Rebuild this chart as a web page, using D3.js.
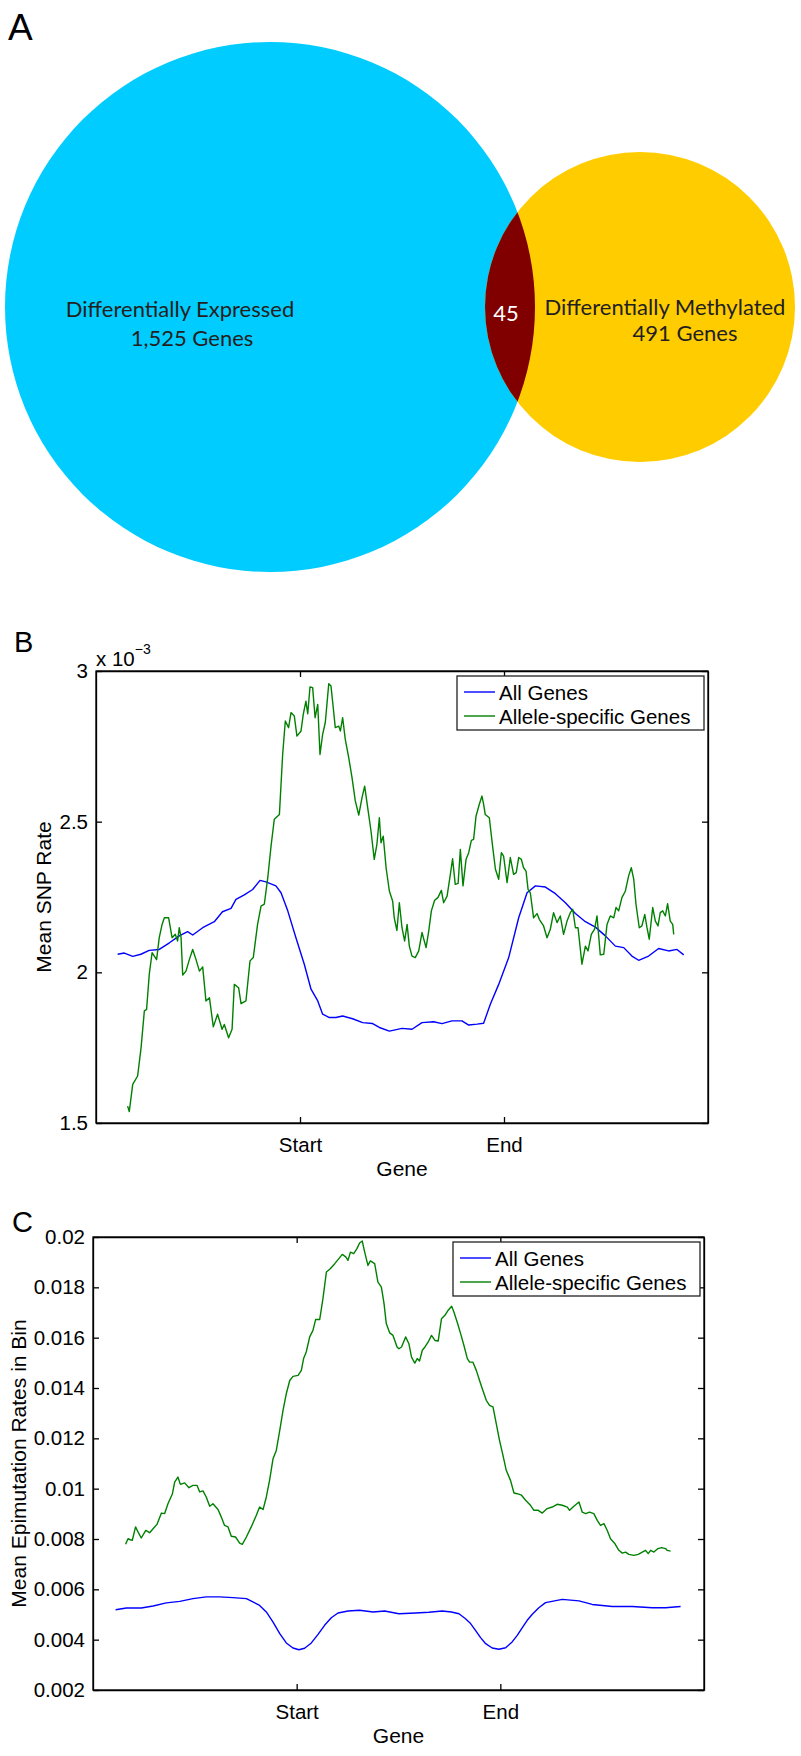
<!DOCTYPE html>
<html>
<head>
<meta charset="utf-8">
<title>Venn and gene profiles</title>
<script src="https://d3js.org/d3.v7.min.js"></script>
<style>
  body { margin: 0; background: #fff; }
  text { font-family: "Liberation Sans", Arial, Helvetica, sans-serif; fill: #000; }
  .venn text { font-family: Lato, "Open Sans", sans-serif; fill: #231f20; }
</style>
</head>
<body>
<script>

// ---- panel A : Venn counts ----
var vennLabels = ["Differentially Expressed", "Differentially Methylated"];
var vennCounts = [1525, 491];
var vennOverlap = 45;

// ---- shared x axis (gene body scaled to bins 0..300) ----
var geneTicks = [100, 200];
var geneTickLabels = ["Start", "End"];
var seriesNames = ["All Genes", "Allele-specific Genes"];
var seriesColors = ["#0000ff", "#008000"];

// ---- panel B : mean SNP rate (units of 1e-3) ----
var snpTicks = [1.5, 2, 2.5, 3];
var snpAllGenes = [
  [10.6,2.060],[13.9,2.064],[18,2.053],[22,2.060],[26.1,2.073],[31,2.076],[36,2.098],[40.8,2.121],
  [44.9,2.135],[47.4,2.124],[52.3,2.148],[58,2.168],[62,2.201],[66.2,2.212],[68.6,2.242],[72.7,2.257],
  [76.8,2.275],[80.4,2.305],[83.3,2.300],[88.2,2.287],[90.7,2.264],[94,2.204],[98,2.115],[102.1,2.027],
  [105.4,1.944],[108.7,1.905],[111.1,1.861],[114.4,1.850],[117.6,1.850],[120.9,1.855],[125.8,1.846],
  [130.7,1.833],[135.6,1.830],[138.9,1.817],[143.8,1.805],[150,1.814],[154.9,1.811],[159.8,1.833],
  [165.5,1.836],[169.6,1.830],[174.5,1.839],[179.4,1.839],[182.7,1.825],[186.8,1.828],[190,1.831],
  [193.3,1.894],[197.4,1.960],[202.3,2.049],[207.2,2.181],[211.3,2.264],[215.4,2.287],[220.3,2.283],
  [225.2,2.261],[230.1,2.231],[235,2.195],[239.9,2.168],[244.8,2.150],[249.7,2.121],[254.6,2.087],
  [258.7,2.082],[262.7,2.054],[266,2.040],[270.9,2.054],[275.8,2.079],[280.7,2.071],[284.8,2.076],[288.1,2.058]
];
var snpAlleleGenes = [
  [15.5,1.556],[16.3,1.538],[18,1.628],[20.4,1.656],[22.1,1.750],[23.7,1.872],[24.8,1.877],[26.1,1.993],
  [27.5,2.065],[28.6,2.054],[29.7,2.042],[31,2.115],[32.4,2.159],[33.5,2.181],[35.6,2.181],[37.3,2.115],
  [38.9,2.126],[40,2.104],[40.8,2.148],[41.7,2.115],[42.5,1.991],[44.1,2.004],[45.8,2.043],[47.4,2.076],
  [49,2.043],[50.7,2.004],[52.3,2.018],[53.9,1.905],[55.6,1.916],[57.5,1.819],[59.6,1.861],[61.8,1.811],
  [62.9,1.827],[65,1.783],[66.7,1.811],[67.8,1.960],[69.9,1.949],[71.1,1.896],[73.5,1.905],[75.5,2.038],
  [77.1,2.049],[79.2,2.159],[80.9,2.220],[82.5,2.226],[84.2,2.314],[85.8,2.419],[87.4,2.508],[89.1,2.519],
  [89.9,2.524],[91.5,2.723],[92.8,2.834],[94.4,2.812],[95.6,2.862],[97.2,2.851],[98.5,2.784],[100.5,2.801],
  [101.6,2.856],[102.9,2.900],[103.8,2.858],[104.9,2.947],[106.2,2.945],[107.4,2.845],[108.7,2.889],
  [109.8,2.723],[111.1,2.790],[112.4,2.829],[114.1,2.958],[115.2,2.950],[116.3,2.878],[117.3,2.812],
  [119,2.817],[119.8,2.801],[120.9,2.845],[122.2,2.773],[123.9,2.712],[125.5,2.646],[127.1,2.569],
  [128.8,2.522],[130.4,2.580],[131.7,2.618],[133.2,2.546],[134.8,2.469],[136.4,2.375],[137.7,2.425],
  [138.9,2.513],[139.7,2.430],[140.8,2.452],[142.2,2.347],[143.8,2.270],[145.4,2.237],[146.2,2.181],
  [147.5,2.139],[148.7,2.231],[150,2.148],[151.3,2.104],[152.5,2.159],[153.6,2.087],[154.9,2.054],
  [156.5,2.049],[158.2,2.071],[159.8,2.132],[161.8,2.082],[163.1,2.137],[164.4,2.204],[166,2.239],
  [167.6,2.248],[169.3,2.272],[170.4,2.231],[172.1,2.253],[173.7,2.325],[174.8,2.377],[176.1,2.292],
  [177.5,2.295],[178.6,2.408],[179.9,2.287],[181.4,2.375],[182.7,2.397],[184,2.438],[185.1,2.441],
  [186.3,2.519],[187.9,2.558],[189.2,2.585],[190,2.558],[190.8,2.524],[192.8,2.513],[194.4,2.419],
  [195.8,2.342],[197.4,2.309],[198.7,2.397],[199.8,2.386],[201.5,2.298],[203.1,2.381],[204.7,2.325],
  [206,2.331],[207.2,2.381],[208.5,2.375],[209.6,2.347],[210.8,2.336],[211.8,2.275],[212.9,2.264],
  [214.5,2.181],[216.2,2.195],[217.3,2.176],[219.4,2.154],[221.1,2.115],[222.7,2.143],[224.3,2.198],
  [226,2.165],[227.6,2.187],[229.2,2.126],[230.9,2.170],[232.5,2.198],[233.7,2.209],[235,2.148],
  [236.3,2.148],[238.2,2.027],[239.9,2.087],[241.2,2.071],[242.8,2.126],[244.4,2.143],[245.6,2.187],
  [247.2,2.058],[248.9,2.060],[250.5,2.159],[252.1,2.187],[253.8,2.181],[254.9,2.215],[256.2,2.204],
  [257.8,2.248],[259.5,2.270],[261.1,2.320],[262.4,2.347],[263.6,2.309],[264.7,2.226],[266.3,2.148],
  [267.6,2.154],[269,2.192],[270.1,2.148],[271.2,2.110],[272.9,2.215],[274.2,2.170],[275.5,2.154],
  [276.6,2.198],[277.8,2.204],[279.1,2.187],[280.2,2.228],[281.5,2.170],[282.7,2.159],[283.2,2.126]
];

// ---- panel C : mean epimutation rate in bin ----
var epiTicks = [0.002, 0.004, 0.006, 0.008, 0.01, 0.012, 0.014, 0.016, 0.018, 0.02];
var epiAllGenes = [
  [11.1,0.00519],[16.4,0.00526],[23.7,0.00526],[29.5,0.00534],[36,0.00546],[42.6,0.00552],[49.1,0.00563],
  [55.6,0.00570],[62.2,0.00570],[68.7,0.00567],[75.3,0.00563],[78.5,0.00550],[81.8,0.00536],[85.1,0.00510],
  [88.4,0.00470],[91.7,0.00424],[94.9,0.00387],[98.2,0.00367],[101.1,0.00360],[103.9,0.00366],
  [107.2,0.00387],[110.5,0.00421],[113.7,0.00457],[117,0.00487],[120.3,0.00506],[125.2,0.00514],
  [130.9,0.00517],[137.5,0.00510],[143.2,0.00514],[150.2,0.00503],[158.4,0.00506],[164.9,0.00509],
  [171.5,0.00514],[176,0.00510],[179.7,0.00503],[182.9,0.00483],[185.4,0.00464],[187.8,0.00437],
  [190.3,0.00408],[192.8,0.00384],[196,0.00367],[199.3,0.00362],[202.6,0.00368],[205.8,0.00391],
  [208.3,0.00417],[210.8,0.00448],[213.2,0.00477],[215.7,0.00501],[218.9,0.00527],[222.2,0.00547],
  [230.4,0.00560],[238.6,0.00554],[245.1,0.00540],[255,0.00532],[264.8,0.00532],[274.6,0.00527],
  [281.1,0.00527],[288.5,0.00532]
];
var epiAlleleGenes = [
  [16,0.00779],[17.2,0.00801],[18.3,0.00797],[19.3,0.00795],[20.9,0.00848],[22.1,0.00828],[23.7,0.00804],
  [25.9,0.00834],[27.8,0.00825],[29.5,0.00841],[31.4,0.00858],[33.6,0.00903],[35.2,0.00901],[36.8,0.00940],
  [39,0.00980],[40.1,0.01026],[41.7,0.01046],[42.9,0.01017],[45,0.01023],[47.1,0.01004],[49.1,0.01013],
  [51.1,0.01013],[52.4,0.00987],[54,0.00991],[55.6,0.00967],[57.3,0.00930],[58.9,0.00940],[61.4,0.00917],
  [63,0.00887],[64.6,0.00854],[66.3,0.00848],[67.9,0.00811],[70,0.00808],[72,0.00784],[73.3,0.00779],
  [75.3,0.00808],[77.7,0.00848],[80.2,0.00894],[81.8,0.00927],[83.5,0.00917],[85.1,0.00967],[86.7,0.01033],
  [88.4,0.01119],[90,0.01152],[91.7,0.01232],[93.3,0.01311],[94.9,0.01377],[96.6,0.01430],[98.2,0.01446],
  [100.7,0.01450],[102.3,0.01470],[103.4,0.01517],[104.7,0.01543],[106.4,0.01603],[108,0.01629],
  [109.3,0.01672],[111.3,0.01672],[112.9,0.01755],[114.6,0.01861],[116.5,0.01874],[118.7,0.01894],
  [120.3,0.01910],[122.4,0.01931],[124.1,0.01921],[125.2,0.01907],[126.4,0.01940],[128,0.01934],
  [129.6,0.01954],[130.9,0.01976],[132.2,0.01984],[133.4,0.01940],[135,0.01887],[136.2,0.01905],
  [138.3,0.01894],[139.9,0.01821],[141.6,0.01801],[142.9,0.01735],[144,0.01656],[145.7,0.01619],
  [147.3,0.01609],[149.3,0.01563],[150.2,0.01556],[151.5,0.01563],[153.5,0.01603],[155.1,0.01576],
  [156.4,0.01523],[158,0.01499],[159.2,0.01517],[160.3,0.01507],[161.7,0.01550],[163,0.01563],
  [164.6,0.01583],[166.2,0.01609],[167.9,0.01589],[169.5,0.01587],[171.1,0.01675],[172.8,0.01689],
  [174.4,0.01709],[176.1,0.01725],[177.2,0.01702],[178.8,0.01662],[180.5,0.01616],[182.1,0.01570],
  [183.8,0.01517],[184.9,0.01503],[186.5,0.01503],[188.2,0.01470],[189.8,0.01430],[191.4,0.01391],
  [193.1,0.01351],[194.7,0.01331],[196.4,0.01325],[198,0.01258],[199.6,0.01192],[201.3,0.01132],
  [202.9,0.01073],[205,0.01033],[206.7,0.00983],[208.3,0.00980],[210.4,0.00974],[212.4,0.00954],
  [214.8,0.00934],[216.5,0.00914],[218.6,0.00914],[220.6,0.00903],[223,0.00921],[225.5,0.00927],
  [227.9,0.00938],[230.4,0.00934],[232.9,0.00927],[234,0.00914],[236.1,0.00930],[238.6,0.00947],
  [240.2,0.00907],[241.9,0.00901],[243.8,0.00907],[245.9,0.00901],[247.6,0.00874],[249.2,0.00854],
  [250.9,0.00861],[252.5,0.00834],[254.1,0.00801],[256.3,0.00781],[258.2,0.00755],[259.9,0.00744],
  [261.5,0.00748],[263.1,0.00739],[265.6,0.00735],[267.7,0.00739],[269.7,0.00748],[271.3,0.00755],
  [272.6,0.00742],[273.8,0.00755],[275.4,0.00748],[277.4,0.00762],[279.2,0.00766],[281.1,0.00762],
  [281.9,0.00755],[283.6,0.00752]
];

var svg = d3.select("body").append("svg")
    .attr("width", 801)
    .attr("height", 1756);

// panel letters
svg.append("text").attr("x", 8).attr("y", 40).style("font-size", "37px").text("A");
svg.append("text").attr("x", 14).attr("y", 652).style("font-size", "29px").text("B");
svg.append("text").attr("x", 12).attr("y", 1232).style("font-size", "29px").text("C");

// ---------------- Venn (panel A) ----------------
var venn = svg.append("g").attr("class", "venn");
var r = d3.scaleSqrt().domain([491, 1525]).range([155, 265]);
var cy = 307;
var c1 = {x: 270, r: r(vennCounts[0])};
var c2 = {x: 640, r: r(vennCounts[1])};

venn.append("circle").attr("cx", c1.x).attr("cy", cy).attr("r", c1.r).style("fill", "#00ccff");
venn.append("circle").attr("cx", c2.x).attr("cy", cy).attr("r", c2.r).style("fill", "#ffcc00");
venn.append("clipPath").attr("id", "clipBig")
  .append("circle").attr("cx", c1.x).attr("cy", cy).attr("r", c1.r);
venn.append("circle").attr("cx", c2.x).attr("cy", cy).attr("r", c2.r)
    .attr("clip-path", "url(#clipBig)")
    .style("fill", "#800000");

var fmt = d3.format(",");
venn.append("text").attr("x", 180).attr("y", 317).attr("text-anchor", "middle")
    .style("font-size", "22px").text(vennLabels[0]);
venn.append("text").attr("x", 192).attr("y", 346).attr("text-anchor", "middle")
    .style("font-size", "22px").text(fmt(vennCounts[0]) + " Genes");
venn.append("text").attr("x", 665).attr("y", 315).attr("text-anchor", "middle")
    .style("font-size", "22px").text(vennLabels[1]);
venn.append("text").attr("x", 685).attr("y", 341).attr("text-anchor", "middle")
    .style("font-size", "22px").text(fmt(vennCounts[1]) + " Genes");
venn.append("text").attr("x", 506).attr("y", 321).attr("text-anchor", "middle")
    .style("font-size", "22px").style("fill", "#fff").text(vennOverlap);

// ---------------- line panels ----------------
function drawPanel(p) {
  var g = svg.append("g");
  var x = d3.scaleLinear().domain([0, 300]).range([p.left, p.right]);
  var y = d3.scaleLinear().domain(p.yDomain).range([p.bottom, p.top]);

  // data lines
  var line = d3.line()
      .x(function(d) { return x(d[0]); })
      .y(function(d) { return y(d[1]); });
  p.series.forEach(function(s, i) {
    g.append("path")
        .datum(s)
        .attr("d", line)
        .style("fill", "none")
        .style("stroke", seriesColors[i])
        .style("stroke-width", 1.4)
        .style("stroke-linejoin", "round");
  });

  // axes, ticks pointing inward like matlab
  var fontSize = "20.5px";
  g.append("g")
      .attr("transform", "translate(0," + p.bottom + ")")
      .call(d3.axisBottom(x).tickValues(geneTicks)
            .tickFormat(function(d, i) { return geneTickLabels[i]; })
            .tickSizeInner(-6).tickSizeOuter(0).tickPadding(14));
  g.append("g")
      .attr("transform", "translate(0," + p.top + ")")
      .call(d3.axisTop(x).tickValues(geneTicks).tickFormat("")
            .tickSizeInner(-6).tickSizeOuter(0));
  g.append("g")
      .attr("transform", "translate(" + p.left + ",0)")
      .call(d3.axisLeft(y).tickValues(p.yTicks).tickFormat(p.tickFormat)
            .tickSizeInner(-6).tickSizeOuter(0).tickPadding(8));
  g.append("g")
      .attr("transform", "translate(" + p.right + ",0)")
      .call(d3.axisRight(y).tickValues(p.yTicks).tickFormat("")
            .tickSizeInner(-6).tickSizeOuter(0));

  g.selectAll(".domain, .tick line").style("stroke", "#000").style("stroke-width", 1.3);
  g.selectAll(".tick text")
      .style("font-size", fontSize)
      .style("font-family", "'Liberation Sans', Arial, sans-serif")
      .style("fill", "#000");

  // box
  g.append("rect")
      .attr("x", p.left).attr("y", p.top)
      .attr("width", p.right - p.left).attr("height", p.bottom - p.top)
      .style("fill", "none").style("stroke", "#000").style("stroke-width", 1.3);

  // axis labels
  g.append("text")
      .attr("x", (p.left + p.right) / 2).attr("y", p.bottom + 53)
      .attr("text-anchor", "middle")
      .style("font-size", "21px")
      .text("Gene");
  g.append("text")
      .attr("transform", "translate(" + p.yLabelX + "," + (p.top + p.bottom) / 2 + ") rotate(-90)")
      .attr("text-anchor", "middle")
      .attr("dominant-baseline", "central")
      .style("font-size", "21px")
      .text(p.yLabel);

  // legend
  var lx = p.right - 251, ly = p.top + 5;
  var lg = g.append("g").attr("transform", "translate(" + lx + "," + ly + ")");
  lg.append("rect").attr("width", 247).attr("height", 54)
      .style("fill", "#fff").style("stroke", "#222").style("stroke-width", 1.3);
  seriesNames.forEach(function(name, i) {
    var yy = 16 + i * 24;
    lg.append("line").attr("x1", 7).attr("x2", 38).attr("y1", yy).attr("y2", yy)
        .style("stroke", seriesColors[i]).style("stroke-width", 1.4);
    lg.append("text").attr("x", 42).attr("y", yy)
        .attr("dominant-baseline", "central")
        .style("font-size", "20.5px")
        .text(name);
  });
  return g;
}

var gB = drawPanel({
  left: 96, right: 708, top: 671, bottom: 1123,
  yDomain: [1.5, 3], yTicks: snpTicks,
  tickFormat: function(d) { return String(d); },
  series: [snpAllGenes, snpAlleleGenes],
  yLabel: "Mean SNP Rate", yLabelX: 43
});
// exponent note above the y axis
var expo = gB.append("text").attr("x", 96).attr("y", 666).style("font-size", "20.5px");
expo.append("tspan").text("x 10");
expo.append("tspan").attr("dy", -12).style("font-size", "14px").text("\u22123");

drawPanel({
  left: 93, right: 704, top: 1237, bottom: 1690,
  yDomain: [0.002, 0.02], yTicks: epiTicks,
  tickFormat: function(d) { return String(+d.toFixed(3)); },
  series: [epiAllGenes, epiAlleleGenes],
  yLabel: "Mean Epimutation Rates in Bin", yLabelX: 18
});

</script>
</body>
</html>
